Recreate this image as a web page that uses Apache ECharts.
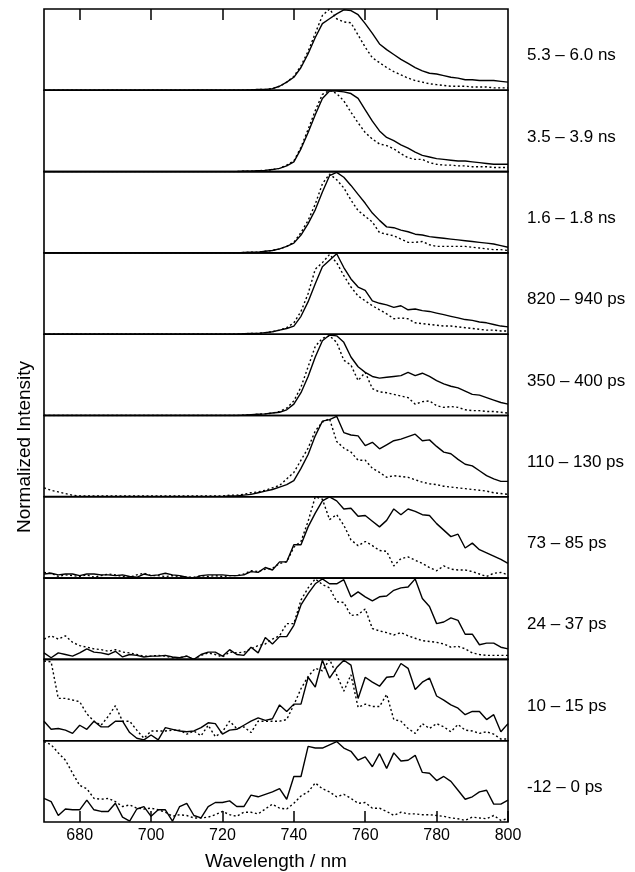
<!DOCTYPE html>
<html>
<head>
<meta charset="utf-8">
<script src="https://cdn.jsdelivr.net/npm/echarts@6.0.0/dist/echarts.min.js"></script>
<style>
    html, body { margin: 0; padding: 0; background: #fff; }
    #chart { width: 635px; height: 872px; }
</style>
</head>
<body>
<div id="chart"></div>
<script type="text/javascript">
    // wavelength grid (nm), 2 nm steps
    var wavelengths = [670,672,674,676,678,680,682,684,686,688, 690,692,694,696,698,700,702,704,706,708,
        710,712,714,716,718,720,722,724,726,728, 730,732,734,736,738,740,742,744,746,748,
        750,752,754,756,758,760,762,764,766,768, 770,772,774,776,778,780,782,784,786,788,
        790,792,794,796,798,800];
    var tickValues = [680, 700, 720, 740, 760, 780, 800];
    var panelLabels = ['5.3 \u2013 6.0 ns', '3.5 \u2013 3.9 ns', '1.6 \u2013 1.8 ns', '820 \u2013 940 ps', '350 \u2013 400 ps',
        '110 \u2013 130 ps', '73 \u2013 85 ps', '24 \u2013 37 ps', '10 \u2013 15 ps', '-12 \u2013 0 ps'];

    // normalized intensities, solid (s) and dotted (d) trace per panel
    var p1s = [0,0,0,0,0,0,0,0,0,0, 0,0,0,0,0,0,0,0,0,0, 0,0,0,0,0,0,0,0,
        0,0.005,0.01,0.01,0.02,0.05,0.10,0.16,0.28,0.45, 0.65,0.82,0.88,0.94,0.99,0.98,0.93,0.82,0.70,0.57,
        0.50,0.44,0.38,0.33,0.28,0.24,0.21,0.20,0.18,0.16, 0.15,0.13,0.13,0.12,0.12,0.12,0.11,0.10];
    var p1d = [0,0,0,0,0,0,0,0,0,0, 0,0,0,0,0,0,0,0,0,0, 0,0,0,0,0,0,0,0,
        0,0.005,0.01,0.01,0.02,0.05,0.10,0.17,0.30,0.48, 0.70,0.92,1.0,0.88,0.84,0.83,0.68,0.53,0.40,0.34,
        0.28,0.23,0.19,0.15,0.12,0.10,0.08,0.07,0.06,0.05, 0.05,0.05,0.04,0.04,0.04,0.03,0.03,0.03];
    var p2s = [0,0,0,0,0,0,0,0,0,0, 0,0,0,0,0,0,0,0,0,0, 0,0,0,0,0,0,0,0,
        0.005,0.005,0.01,0.015,0.025,0.04,0.07,0.12,0.28,0.48, 0.70,0.90,0.99,0.99,0.98,0.96,0.90,0.76,0.62,0.50,
        0.42,0.38,0.33,0.29,0.24,0.20,0.18,0.16,0.15,0.14, 0.13,0.13,0.12,0.11,0.10,0.09,0.09,0.09];
    var p2d = [0,0,0,0,0,0,0,0,0,0, 0,0,0,0,0,0,0,0,0,0, 0,0,0,0,0,0,0,0,
        0.005,0.005,0.01,0.015,0.025,0.04,0.08,0.13,0.30,0.52, 0.75,0.95,1.0,0.96,0.87,0.73,0.60,0.48,0.40,0.34,
        0.32,0.28,0.22,0.17,0.15,0.15,0.11,0.09,0.08,0.08, 0.07,0.07,0.06,0.06,0.06,0.05,0.05,0.05];
    var p3s = [0,0,0,0,0,0,0,0,0,0, 0,0,0,0,0,0,0,0,0,0, 0,0,0,0,0,0,0,0,
        0.005,0.01,0.01,0.02,0.03,0.05,0.08,0.12,0.22,0.36, 0.53,0.75,0.95,0.99,0.93,0.83,0.72,0.61,0.49,0.40,
        0.32,0.31,0.28,0.26,0.23,0.22,0.20,0.19,0.18,0.17, 0.16,0.15,0.14,0.13,0.12,0.11,0.09,0.07];
    var p3d = [0,0,0,0,0,0,0,0,0,0, 0,0,0,0,0,0,0,0,0,0, 0,0,0,0,0,0,0,0,
        0.005,0.01,0.01,0.02,0.03,0.05,0.08,0.13,0.25,0.40, 0.60,0.85,0.97,0.90,0.80,0.65,0.52,0.45,0.38,0.25,
        0.23,0.21,0.17,0.13,0.13,0.14,0.10,0.08,0.08,0.08, 0.08,0.08,0.07,0.06,0.05,0.04,0.04,0.03];
    var p4s = [0,0,0,0,0,0,0,0,0,0, 0,0,0,0,0,0,0,0,0,0, 0,0,0,0,0,0,0,0,
        0.005,0.01,0.01,0.02,0.03,0.05,0.07,0.10,0.22,0.40, 0.62,0.83,0.91,0.99,0.82,0.68,0.58,0.54,0.41,0.38,
        0.36,0.33,0.35,0.30,0.31,0.29,0.28,0.26,0.24,0.22, 0.20,0.18,0.17,0.15,0.14,0.12,0.10,0.09];
    var p4d = [0,0,0,0,0,0,0,0,0,0, 0,0,0,0,0,0,0,0,0,0, 0,0,0,0,0,0,0,0,
        0.005,0.01,0.01,0.02,0.03,0.05,0.08,0.14,0.28,0.50, 0.80,0.88,0.98,0.88,0.72,0.58,0.47,0.41,0.35,0.30,
        0.25,0.19,0.20,0.19,0.14,0.13,0.12,0.11,0.10,0.10, 0.09,0.08,0.07,0.06,0.05,0.05,0.04,0.04];
    var p5s = [0,0,0,0,0,0,0,0,0,0, 0,0,0,0,0,0,0,0,0,0, 0,0,0,0,0,0,0,0,
        0.005,0.01,0.015,0.02,0.03,0.04,0.07,0.14,0.28,0.48, 0.72,0.92,0.99,0.98,0.90,0.72,0.60,0.53,0.48,0.46,
        0.47,0.48,0.49,0.53,0.49,0.52,0.48,0.43,0.39,0.36, 0.34,0.30,0.26,0.25,0.22,0.19,0.16,0.14];
    var p5d = [0,0,0,0,0,0,0,0,0,0, 0,0,0,0,0,0,0,0,0,0, 0,0,0,0,0,0,0,0,
        0.005,0.01,0.015,0.02,0.03,0.05,0.09,0.18,0.35,0.60, 0.85,0.95,0.98,0.90,0.68,0.62,0.43,0.53,0.33,0.29,
        0.28,0.26,0.24,0.22,0.14,0.17,0.18,0.12,0.10,0.11, 0.10,0.07,0.06,0.06,0.05,0.05,0.04,0.03];
    var p6s = [0.005,0.005,0.005,0.005,0.005,0.005,0.005,0.005,0.005,0.005, 0.005,0.005,0.005,0.005,0.005,0.005,0.005,0.005,0.005,0.005,
        0.005,0.005,0.005,0.005,0.005,0.005,0.01,0.01,
        0.02,0.03,0.05,0.07,0.09,0.12,0.15,0.20,0.35,0.52, 0.75,0.93,0.95,0.99,0.79,0.76,0.75,0.63,0.67,0.59,
        0.64,0.69,0.71,0.74,0.77,0.69,0.70,0.62,0.55,0.53, 0.46,0.40,0.38,0.32,0.26,0.22,0.19,0.19];
    var p6d = [0.11,0.08,0.06,0.04,0.02,0.01,0.01,0.01,0.01,0.01, 0.01,0.01,0.01,0.01,0.01,0.01,0.01,0.01,0.01,0.01,
        0.01,0.01,0.01,0.01,0.01,0.01,0.02,0.02,
        0.03,0.05,0.06,0.08,0.11,0.14,0.22,0.30,0.45,0.60, 0.81,0.92,0.96,0.68,0.60,0.55,0.45,0.45,0.35,0.30,
        0.24,0.26,0.25,0.24,0.21,0.18,0.16,0.15,0.13,0.12, 0.11,0.10,0.09,0.08,0.07,0.05,0.04,0.03];
    var p7s = [0.05,0.06,0.04,0.05,0.05,0.03,0.05,0.05,0.04,0.04, 0.03,0.04,0.02,0.01,0.05,0.03,0.04,0.06,0.04,0.03,
        0.01,0.0,0.03,0.04,0.04,0.04,0.03,0.03,0.04,0.08, 0.07,0.13,0.10,0.20,0.20,0.41,0.41,0.63,0.80,0.95,
        1.0,0.95,0.85,0.86,0.76,0.77,0.70,0.63,0.71,0.85, 0.78,0.85,0.82,0.78,0.77,0.67,0.59,0.51,0.54,0.37,
        0.43,0.35,0.31,0.27,0.23,0.18];
    var p7d = [0.07,0.06,0.02,0.04,0.03,0.02,0.04,0.01,0.03,0.05, 0.04,0.02,0.01,0.04,0.06,0.03,0.03,0.02,0.03,0.02,
        0.01,0.01,0.03,0.02,0.03,0.02,0.03,0.03,0.05,0.09, 0.08,0.11,0.12,0.18,0.20,0.38,0.45,0.70,1.0,0.97,
        0.72,0.78,0.65,0.47,0.40,0.45,0.40,0.34,0.33,0.15, 0.24,0.26,0.22,0.18,0.13,0.09,0.15,0.11,0.10,0.10,
        0.08,0.05,0.02,0.06,0.07,0.04];
    var p8s = [0.08,0.02,0.08,0.06,0.04,0.08,0.13,0.09,0.08,0.06, 0.10,0.03,0.06,0.05,0.03,0.04,0.04,0.05,0.03,0.02,
        0.04,0.0,0.06,0.09,0.09,0.04,0.12,0.06,0.05,0.15, 0.08,0.27,0.19,0.28,0.28,0.42,0.67,0.81,0.93,0.99,
        0.93,0.93,0.98,0.77,0.83,0.77,0.72,0.77,0.78,0.85, 0.88,0.89,0.99,0.75,0.65,0.44,0.46,0.51,0.48,0.31,
        0.31,0.18,0.20,0.20,0.15,0.13];
    var p8d = [0.25,0.29,0.25,0.29,0.21,0.17,0.15,0.13,0.12,0.10, 0.12,0.09,0.08,0.06,0.04,0.04,0.05,0.04,0.02,0.02,
        0.04,0.0,0.05,0.08,0.06,0.03,0.09,0.08,0.09,0.13, 0.17,0.19,0.25,0.29,0.44,0.44,0.73,0.88,0.99,0.92,
        0.88,0.71,0.70,0.54,0.55,0.62,0.38,0.35,0.33,0.30, 0.33,0.29,0.26,0.23,0.22,0.21,0.19,0.15,0.16,0.13,
        0.08,0.06,0.05,0.05,0.05,0.05];
    var p9s = [0.24,0.14,0.15,0.13,0.09,0.19,0.14,0.24,0.17,0.17, 0.24,0.24,0.10,0.03,0.01,0.07,0.01,0.16,0.14,0.12,
        0.11,0.12,0.16,0.22,0.21,0.08,0.13,0.14,0.19,0.24, 0.28,0.25,0.27,0.44,0.36,0.45,0.45,0.78,0.66,0.99,
        0.77,0.90,0.99,0.93,0.52,0.78,0.72,0.67,0.78,0.79, 0.95,0.89,0.63,0.72,0.77,0.55,0.50,0.44,0.40,0.32,
        0.36,0.36,0.26,0.32,0.11,0.21];
    var p9d = [0.98,0.97,0.52,0.52,0.50,0.48,0.33,0.24,0.19,0.30, 0.43,0.24,0.24,0.13,0.03,0.12,0.12,0.12,0.13,0.13,
        0.08,0.12,0.06,0.19,0.05,0.11,0.24,0.15,0.17,0.10, 0.24,0.24,0.24,0.24,0.26,0.44,0.64,0.79,0.89,0.86,
        1.0,0.81,0.61,0.81,0.41,0.45,0.42,0.42,0.57,0.26, 0.24,0.15,0.09,0.21,0.15,0.21,0.17,0.11,0.20,0.13,
        0.12,0.09,0.11,0.08,0.02,0.02];
    var p10s = [0.29,0.25,0.08,0.16,0.15,0.15,0.27,0.15,0.13,0.13, 0.23,0.06,0.01,0.16,0.19,0.07,0.15,0.15,0.01,0.19,
        0.23,0.08,0.05,0.19,0.24,0.24,0.26,0.19,0.19,0.33, 0.31,0.34,0.37,0.41,0.28,0.56,0.56,0.93,0.91,0.91,
        0.95,0.99,0.91,0.87,0.76,0.80,0.68,0.84,0.66,0.85, 0.75,0.76,0.82,0.61,0.60,0.51,0.56,0.50,0.39,0.28,
        0.31,0.37,0.39,0.22,0.22,0.27];
    var p10d = [0.99,0.95,0.85,0.76,0.60,0.45,0.41,0.29,0.28,0.29, 0.25,0.19,0.21,0.17,0.16,0.17,0.15,0.12,0.07,0.09,
        0.08,0.05,0.05,0.06,0.09,0.13,0.09,0.07,0.12,0.12, 0.10,0.16,0.22,0.17,0.16,0.23,0.32,0.37,0.48,0.41,
        0.37,0.31,0.34,0.29,0.23,0.24,0.17,0.17,0.13,0.08, 0.12,0.10,0.10,0.09,0.09,0.08,0.07,0.05,0.04,0.02,
        0.06,0.05,0.04,0.08,0.02,0.04];

    var solidTraces = [p1s, p2s, p3s, p4s, p5s, p6s, p7s, p8s, p9s, p10s];
    var dottedTraces = [p1d, p2d, p3d, p4d, p5d, p6d, p7d, p8d, p9d, p10d];

    var FONT = '"Liberation Sans", Arial, Helvetica, sans-serif';
    var plotTop = 9, panelH = 81.3, plotLeft = 44, plotRight = 508;

    function pairs(vals) {
        return wavelengths.map(function (w, k) { return [w, vals[k]]; });
    }

    var grids = [], xAxes = [], yAxes = [], series = [], graphics = [];
    for (var i = 0; i < 10; i++) {
        grids.push({
            left: plotLeft, width: plotRight - plotLeft,
            top: plotTop + i * panelH, height: panelH,
            show: true, borderColor: '#000', borderWidth: 1.6, backgroundColor: 'transparent'
        });
        var isTop = i === 0, isBottom = i === 9;
        xAxes.push({
            gridIndex: i, type: 'value', min: 670, max: 800,
            position: isTop ? 'top' : 'bottom',
            show: isTop || isBottom,
            axisLine: { show: false, onZero: false },
            splitLine: { show: false },
            axisTick: {
                show: true, inside: true, length: 11,
                lineStyle: { color: '#000', width: 1.5 },
                customValues: isTop ? [680, 700, 720, 740, 760, 780] : tickValues
            },
            axisLabel: {
                show: isBottom, color: '#000', fontSize: 16, fontFamily: FONT, margin: 6,
                customValues: tickValues
            },
            name: isBottom ? 'Wavelength / nm' : '',
            nameLocation: 'middle', nameGap: 30,
            nameTextStyle: { color: '#000', fontSize: 19, fontFamily: FONT }
        });
        yAxes.push({ gridIndex: i, type: 'value', min: 0, max: 1, show: false });
        series.push({
            type: 'line', xAxisIndex: i, yAxisIndex: i, data: pairs(solidTraces[i]),
            showSymbol: false, symbol: 'none', silent: true,
            lineStyle: { color: '#000', width: 1.4 }
        });
        series.push({
            type: 'line', xAxisIndex: i, yAxisIndex: i, data: pairs(dottedTraces[i]),
            showSymbol: false, symbol: 'none', silent: true,
            lineStyle: { color: '#000', width: 1.4, type: [2, 2.5] }
        });
        graphics.push({
            type: 'text', x: 527, y: plotTop + (i + 0.5) * panelH + 6,
            style: { text: panelLabels[i], fill: '#000', font: '17px ' + FONT, textVerticalAlign: 'middle' }
        });
    }
    graphics.push({
        type: 'text', x: 25, y: 447, rotation: Math.PI / 2,
        style: { text: 'Normalized Intensity', fill: '#000', font: '19px ' + FONT, textAlign: 'center', textVerticalAlign: 'middle' }
    });

    var myChart = echarts.init(document.getElementById('chart'));
    myChart.setOption({
        animation: false,
        backgroundColor: '#fff',
        grid: grids,
        xAxis: xAxes,
        yAxis: yAxes,
        series: series,
        graphic: graphics
    });
</script>
</body>
</html>
